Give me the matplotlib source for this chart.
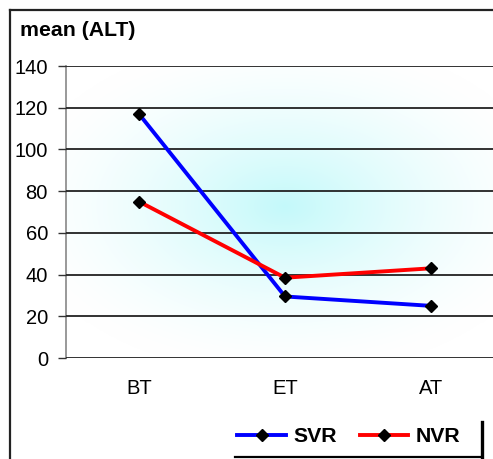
import numpy as np
import matplotlib.pyplot as plt
from matplotlib.lines import Line2D

# Data
# -----------------
periods = ["BT", "ET", "AT"]
svr = [117, 29.5, 25]
nvr = [75, 38.5, 43]
y_ticks = [0, 20, 40, 60, 80, 100, 120, 140]

plt.rcParams['font.family'] = ['Liberation Sans', 'DejaVu Sans']

W, H = 493, 459
fig = plt.figure(figsize=(W / 100, H / 100), dpi=100)
fig.patch.set_facecolor('white')

# plot area runs past the right edge of the figure
ax = fig.add_axes([66 / W, 1 - 358 / H, 438 / W, 292 / H])
ax.set_facecolor('white')

# soft cyan glow behind the lines
gx, gy = np.meshgrid(np.linspace(0, 1, 400), np.linspace(0, 1, 300))
d = np.sqrt(((gx - 0.5) / 0.62) ** 2 + ((gy - 0.52) / 0.58) ** 2)
t = (1 - np.clip(d, 0, 1)) ** 1.5
centre = np.array([196, 249, 250]) / 255
img = np.ones((300, 400, 3)) * (1 - t[..., None]) + centre * t[..., None]
ax.imshow(img, extent=[0, 1, 0, 1], transform=ax.transAxes, origin='lower',
          aspect='auto', zorder=0, interpolation='bilinear')

x = np.arange(len(periods))
ax.plot(x, svr, color='#0000ff', lw=2.8, marker='D', ms=6.5,
        mfc='black', mec='black', label='SVR', zorder=3)
ax.plot(x, nvr, color='#ff0000', lw=2.8, marker='D', ms=6.5,
        mfc='black', mec='black', label='NVR', zorder=3)

ax.set_xlim(-0.5, 2.5)
ax.set_ylim(0, 140)
ax.set_xticks(x)
ax.set_xticklabels(periods)
ax.set_yticks(y_ticks)
ax.yaxis.grid(True, color='#222222', lw=1.3)
ax.set_axisbelow(False)
for gl in ax.get_ygridlines():
    gl.set_zorder(1)
ax.tick_params(axis='y', length=6, width=1, color='#333333', pad=7, labelsize=14.5)
ax.tick_params(axis='x', length=0, pad=15, labelsize=14.5)
for side in ['top', 'right', 'bottom']:
    ax.spines[side].set_visible(False)
ax.spines['left'].set_color('#888888')
ax.spines['left'].set_linewidth(1.2)

# title
fig.text(20 / W, 1 - 30 / H, "mean (ALT)", fontsize=15.3, fontweight='bold',
         va='center', ha='left')

# outer frame (top and left)
fig.add_artist(Line2D([10 / W, 1], [1 - 10 / H, 1 - 10 / H], color='#222222', lw=1.6))
fig.add_artist(Line2D([10 / W, 10 / W], [0, 1 - 10 / H], color='#222222', lw=1.6))

# legend
leg = fig.legend(loc='center', bbox_to_anchor=(349 / W, 1 - 437 / H), ncol=2,
                 frameon=False, prop={'weight': 'bold', 'size': 15.3},
                 handlelength=2.3, handletextpad=0.35, columnspacing=1.05,
                 borderpad=0, borderaxespad=0)
fig.add_artist(Line2D([235 / W, 482 / W], [1 - 457 / H, 1 - 457 / H], color='black', lw=1.6))
fig.add_artist(Line2D([482 / W, 482 / W], [1 - 458 / H, 1 - 422 / H], color='black', lw=2.4))

fig.savefig('out.png', dpi=100)
